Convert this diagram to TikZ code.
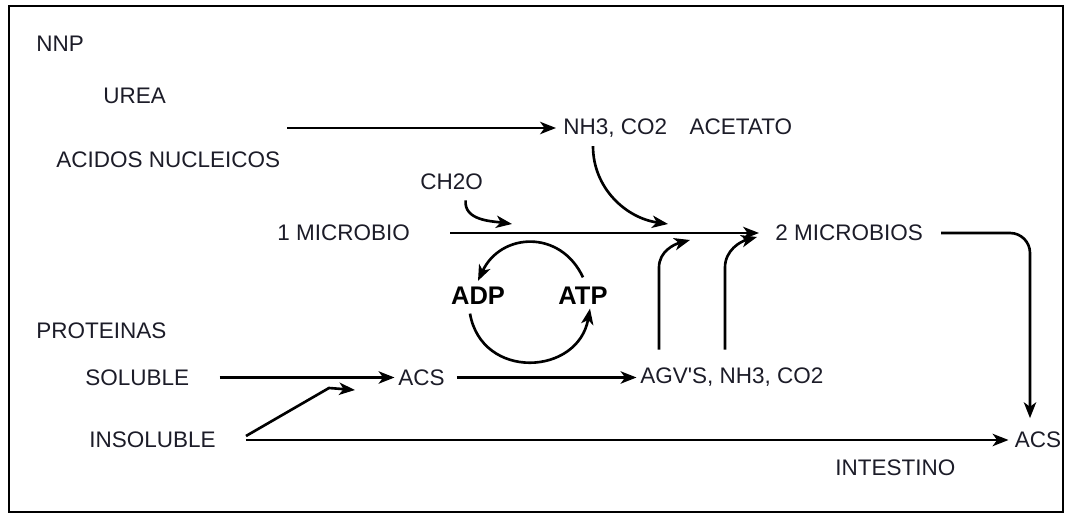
\documentclass[tikz,border=0pt]{standalone}
\usepackage{fontspec}
\setmainfont{Liberation Sans}
\usetikzlibrary{arrows.meta,positioning,calc}
\definecolor{rumenInk}{HTML}{1C1C28}

\begin{document}
\begin{tikzpicture}[
  term/.style={anchor=west,inner sep=2pt,text=rumenInk,font=\fontsize{12.8}{15}\selectfont},
  energy/.style={inner sep=2pt,text=black,font=\fontsize{14.5}{16}\selectfont\bfseries},
  edge/.style={-{Stealth[length=9pt,width=7pt,inset=2.5pt]},line width=1.5pt,draw=black},
  frame/.style={line width=1.4pt,draw=black}
]
\useasboundingbox (0,0) rectangle (21.42,10.30);
\fill[white] (0,0) rectangle (21.42,10.30);
\draw[frame] (0.18,0.06) rectangle (21.26,10.18);

\node[term] (nnp) at (0.65,9.42) {NNP};
\node[term] (urea) at (1.99,8.38) {UREA};
\node[term] (nucleic) at (1.05,7.10) {ACIDOS NUCLEICOS};
\node[term] (ammonia) at (11.19,7.74) {NH3, CO2\quad ACETATO};
\node[term] (carbo) at (8.33,6.66) {CH2O};
\node[term] (microA) at (5.47,5.64) {1 MICROBIO};
\node[term] (microB) at (15.43,5.64) {2 MICROBIOS};
\node[energy] (adp) at (9.56,4.38) {ADP};
\node[energy] (atp) at (11.66,4.38) {ATP};
\node[term] (proteins) at (0.65,3.68) {PROTEINAS};
\node[term] (soluble) at (1.63,2.75) {SOLUBLE};
\node[term] (acs) at (7.89,2.75) {ACS};
\node[term] (vfa) at (12.73,2.75) {AGV\textquotesingle S, NH3, CO2};
\node[term] (insoluble) at (1.71,1.50) {INSOLUBLE};
\node[term] (acsgut) at (20.22,1.50) {ACS};
\node[term] (gut) at (16.63,0.94) {INTESTINO};

\coordinate (nnpout) at (5.74,7.74);
\coordinate (carboin) at (10.24,5.82);
\coordinate (ammoniain) at (13.36,5.82);
\coordinate (insin) at (7.10,2.50);
\coordinate (vfainA) at (13.80,5.50);
\coordinate (vfainB) at (15.14,5.56);

\draw[edge,shorten >=2pt] (nnpout) -- (ammonia.west);
\draw[edge] ([xshift=0.73cm]microA.east) -- ([xshift=-0.25cm]microB.west);
\draw[edge] ([xshift=0.28cm,yshift=-0.13cm]carbo.south) to[out=-95,in=172] (carboin);
\draw[edge] ([xshift=0.67cm,yshift=-0.1cm]ammonia.south west) to[out=-90,in=172] (ammoniain);

\draw[edge] ([yshift=0.12cm]atp.north) to[out=115,in=65,looseness=1.3] ([yshift=0.05cm]adp.north);
\draw[edge] ([xshift=-0.16cm,yshift=-0.1cm]adp.south) to[out=-80,in=-100,looseness=1.45] ([xshift=0.14cm]atp.south);

\draw[edge] ([xshift=0.53cm]soluble.east) -- (acs.west);
\draw[edge] ([xshift=0.17cm]acs.east) -- (vfa.west);
\draw[edge] ([xshift=0.53cm,yshift=0.08cm]insoluble.east) -- ++(1.66,0.96) -- (insin);
\draw[edge] ([xshift=0.53cm]insoluble.east) -- ([xshift=-0.05cm]acsgut.west);

\draw[edge] ([xshift=0.45cm,yshift=0.56cm]vfa.west) -- ++(0,1.64) to[out=90,in=195] (vfainA);
\draw[edge] ([xshift=1.77cm,yshift=0.56cm]vfa.west) -- ++(0,1.64) to[out=90,in=195] (vfainB);

\draw[edge,rounded corners=0.4cm] ([xshift=0.29cm]microB.east) -| ([xshift=-0.16cm,yshift=0.2cm]acsgut.north);
\end{tikzpicture}
\end{document}
